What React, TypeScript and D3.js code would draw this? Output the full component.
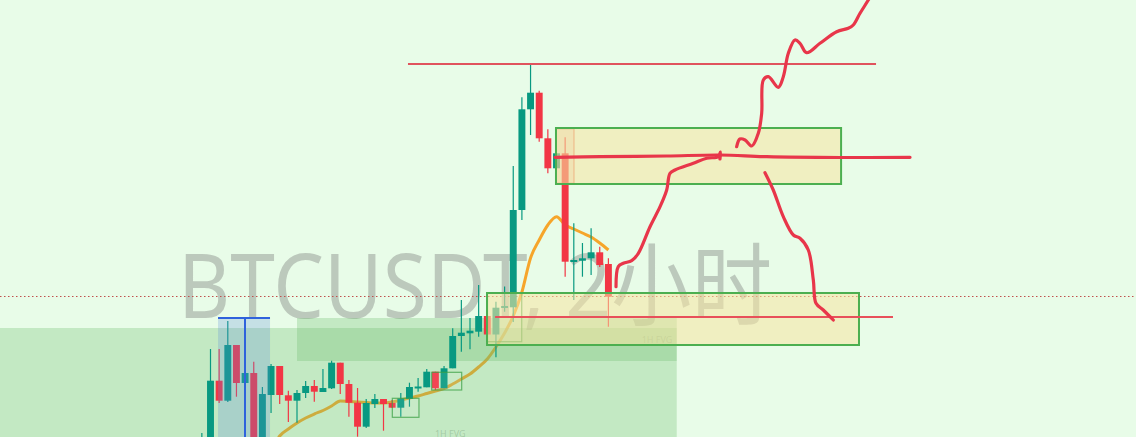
import React from 'react';
import * as d3 from 'd3';

const W = 1136;
const H = 437;

// Candles, bar index -1 .. 46 (2h bars)
const barIndex = d3.range(-1, 47);
const opens = [59740, 59840, 61126, 60726, 61840, 61080, 61280, 59840, 60840, 61420, 60834, 60726, 60880, 61020, 60900, 60974, 61486, 61060, 60686, 60206, 60660, 60760, 60680, 60586, 60760, 60990, 60994, 61306, 60974, 61374, 62020, 62074, 62106, 62420, 62050, 62600, 62594, 64540, 66554, 66886, 65974, 65374, 65674, 63520, 63526, 63574, 63694, 63460];
const closes = [59940, 61126, 60726, 61840, 61080, 61280, 59840, 60860, 61420, 60840, 60726, 60880, 61020, 60906, 60980, 61486, 61060, 60686, 60206, 60680, 60760, 60660, 60586, 60770, 61000, 61010, 61306, 60974, 61374, 62020, 62086, 62126, 62420, 62050, 62586, 62620, 64540, 66554, 66886, 65974, 65374, 65674, 63506, 63540, 63574, 63694, 63440, 62806];
const highs = [60080, 61760, 61760, 62320, 61840, 61340, 61506, 61000, 61460, 61420, 60926, 60940, 61120, 61140, 61360, 61526, 61486, 61140, 60980, 60760, 60860, 60760, 60740, 60880, 61086, 61180, 61360, 61306, 61420, 62174, 62740, 62380, 63040, 62420, 62706, 63010, 65420, 66794, 67460, 66926, 66154, 65674, 65994, 64274, 63880, 64174, 63806, 63574];
const lows = [59640, 59740, 60680, 60700, 60806, 61040, 59740, 59740, 60480, 60660, 60300, 60286, 60780, 60706, 60900, 60960, 60860, 60406, 60006, 60180, 60580, 60126, 60580, 60406, 60606, 60906, 60994, 60940, 60974, 61374, 61706, 61754, 62006, 62040, 61594, 62506, 62300, 64340, 66040, 65906, 65274, 65374, 63206, 62740, 63206, 63240, 63400, 62206];

// Moving average, bar index 7 .. 46
const maStart = 7;
const maValues = [59680, 60020, 60160, 60280, 60380, 60460, 60530, 60620, 60720, 60710, 60700, 60690, 60680, 60680, 60700, 60740, 60780, 60820, 60870, 60920, 60970, 61060, 61160, 61260, 61400, 61560, 61800, 62080, 62420, 62900, 63580, 63940, 64240, 64406, 64240, 64160, 64080, 64000, 63880, 63740];

// Zones: [x0 index, x1 index, top price, bottom price]
const demandZone = [-25, 53.9, 62180, 59000];
const fvgZone = [10, 53.9, 62380, 61520];
const blueBox = [0.87, 6.88, 62380, 59000];
const blueMidIndex = 3.99;
const supplyBox = [39.94, 72.9, 66180, 65060];
const supportBox = [31.97, 74.97, 62880, 61840];
const smallFvg = [39.94, 42.02, 66166, 65074];
const smallBoxes = [
  [21.02, 24.1, 60774, 60394],
  [25.57, 29.04, 61294, 60940],
  [31.93, 35.98, 62874, 61906],
];

// Horizontal levels: [x0 index, x1 index, price]
const highLevel = [22.83, 76.94, 67460];
const lowLevel = [32.9, 78.9, 62400];
const lastPrice = 62810;

// Labels
const fvgLabels = [
  { text: '1H FVG', idx: 49.85, price: 61880 },
  { text: '1H FVG', idx: 25.95, price: 60000 },
];
const watermark = 'BTCUSDT, 2小时';

// Freehand drawings: [bar index, price]
const drawRise1 = [[46.88, 63006], [47.14, 63406], [47.72, 63474], [48.69, 63526], [49.46, 63674], [50.81, 64206], [51.97, 64606], [52.74, 64940], [53.12, 65274], [53.7, 65340], [55.82, 65474], [57.36, 65574], [58.71, 65606], [58.95, 65700], [58.9, 65560]];
const drawRise2 = [[60.83, 65806], [61.2, 65960], [61.8, 65940], [62.57, 65820], [63.33, 66074], [63.72, 66474], [63.91, 67140], [64.49, 67206], [65.64, 66994], [66.22, 67206], [66.8, 67674], [67.57, 67940], [68.15, 67874], [68.92, 67686], [70.46, 67874], [72.39, 68106], [73.73, 68174], [74.31, 68240], [75.09, 68474], [76.05, 68740], [76.6, 68900]];
const drawFall = [[64.1, 65286], [65.06, 64940], [66.22, 64406], [67.38, 64040], [68.15, 63974], [69.11, 63740], [69.69, 63140], [70.0, 62674], [70.84, 62540], [72.0, 62340]];
const drawMid = [[39.83, 65594], [45.03, 65606], [52.74, 65620], [58.9, 65640], [64.3, 65606], [72.77, 65590], [80.87, 65594]];

const GREEN = '#089981';
const RED = '#f23645';
const DRAW = '#e8364a';

export default function App() {
  const x = d3.scaleLinear().domain([0, 46]).range([210.5, 608.4]);
  const y = d3.scaleLinear().domain([60000, 68740]).range([H, 0]);
  const step = x(1) - x(0);
  const bw = step * 0.8;

  const rect = (b: number[]) => ({
    x: x(b[0]),
    y: y(b[2]),
    width: x(b[1]) - x(b[0]),
    height: y(b[3]) - y(b[2]),
  });

  const maLine = d3
    .line<number>()
    .x((_, i) => x(maStart + i))
    .y((v) => y(v))
    .curve(d3.curveMonotoneX)(maValues) as string;

  const free = d3
    .line<number[]>()
    .x((p) => x(p[0]))
    .y((p) => y(p[1]))
    .curve(d3.curveCatmullRom.alpha(0.5));

  return (
    <svg width={W} height={H} style={{ position: 'absolute', left: 0, top: 0, display: 'block' }}>
      <rect x={0} y={0} width={W} height={H} fill="#e8fce8" />
      <text
        x={178}
        y={318}
        fontSize={90}
        fontFamily="'Noto Sans', 'Noto Sans CJK SC', sans-serif"
        fill="rgba(110,110,110,0.36)"
        textLength={594}
        lengthAdjust="spacingAndGlyphs"
      >
        {watermark}
      </text>
      <line x1={0} x2={W} y1={y(lastPrice)} y2={y(lastPrice)} stroke="#c0504d" strokeWidth={1} strokeDasharray="1.5 2.5" />
      <path d={maLine} fill="none" stroke="#f6a52a" strokeWidth={3} strokeLinejoin="round" />
      <rect {...rect(demandZone)} fill="rgba(110,190,110,0.3)" />
      <rect {...rect(fvgZone)} fill="rgba(110,190,110,0.3)" />
      {fvgLabels.map((l, i) => (
        <text key={i} x={x(l.idx)} y={y(l.price)} fontSize={9} fontFamily="'Noto Sans', sans-serif" fill="rgba(90,130,90,0.3)">
          {l.text}
        </text>
      ))}
      {barIndex.map((bi, k) => {
        const o = opens[k], c = closes[k], h = highs[k], l = lows[k];
        const col = c >= o ? GREEN : RED;
        const top = y(Math.max(o, c));
        const bot = y(Math.min(o, c));
        const cx = x(bi);
        return (
          <g key={bi}>
            <line x1={cx} x2={cx} y1={y(h)} y2={y(l)} stroke={col} strokeWidth={1.2} />
            <rect x={cx - bw / 2} y={top} width={bw} height={Math.max(2, bot - top)} fill={col} />
          </g>
        );
      })}
      <rect {...rect(blueBox)} fill="rgba(90,140,220,0.25)" />
      <line x1={x(blueBox[0])} x2={x(blueBox[1])} y1={y(blueBox[2])} y2={y(blueBox[2])} stroke="#2f62dc" strokeWidth={2} />
      <line x1={x(blueMidIndex)} x2={x(blueMidIndex)} y1={y(blueBox[2])} y2={H} stroke="#2f62dc" strokeWidth={2} />
      {smallBoxes.map((b, i) => (
        <rect key={i} {...rect(b)} fill="rgba(255,255,255,0.08)" stroke="rgba(60,160,70,0.75)" strokeWidth={1.2} />
      ))}
      <rect {...rect(smallFvg)} fill="rgba(240,120,90,0.18)" stroke="rgba(230,120,90,0.8)" strokeWidth={1.2} />
      <rect {...rect(supplyBox)} fill="rgba(246,228,160,0.55)" stroke="#4caf50" strokeWidth={2} />
      <rect {...rect(supportBox)} fill="rgba(246,228,160,0.55)" stroke="#4caf50" strokeWidth={2} />
      <line x1={x(highLevel[0])} x2={x(highLevel[1])} y1={y(highLevel[2])} y2={y(highLevel[2])} stroke="#e0535d" strokeWidth={2} />
      <line x1={x(lowLevel[0])} x2={x(lowLevel[1])} y1={y(lowLevel[2])} y2={y(lowLevel[2])} stroke="#e8505a" strokeWidth={2} />
      {[drawMid, drawRise1, drawRise2, drawFall].map((pts, i) => (
        <path key={i} d={free(pts) as string} fill="none" stroke={DRAW} strokeWidth={3.2} strokeLinecap="round" strokeLinejoin="round" />
      ))}
    </svg>
  );
}
